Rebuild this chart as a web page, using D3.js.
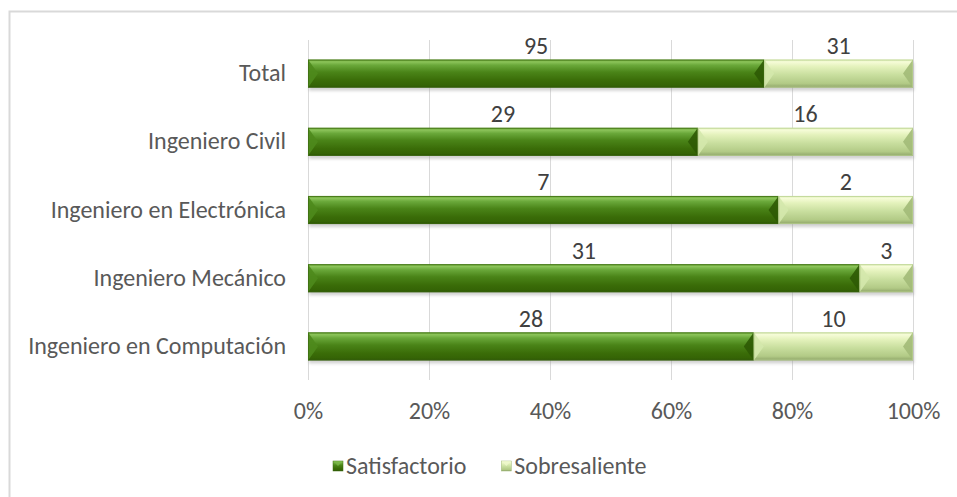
<!DOCTYPE html>
<html>
<head>
<meta charset="utf-8">
<script src="https://cdn.jsdelivr.net/npm/d3@7"></script>
<style>
  html, body { margin: 0; padding: 0; background: #fff; }
  svg { display: block; }
</style>
</head>
<body>
<svg id="chart" width="957" height="497"></svg>
<script>
// ---- data ----
const categories = ["Total", "Ingeniero Civil", "Ingeniero en Electrónica", "Ingeniero Mecánico", "Ingeniero en Computación"];
const satisfactorio = [95, 29, 7, 31, 28];
const sobresaliente = [31, 16, 2, 3, 10];
const seriesNames = ["Satisfactorio", "Sobresaliente"];
const tickValues = [0, 0.2, 0.4, 0.6, 0.8, 1.0];

// ---- setup ----
const svg = d3.select("#chart");
const W = 957, H = 497;
const FONT = "Carlito, Calibri, Lato, 'Open Sans', sans-serif";

// calibrate font size so long label approximates reference width
const probe = svg.append("text").attr("font-family", FONT).attr("font-size", 24).text("Ingeniero en Computación");
const measured = probe.node().getComputedTextLength();
probe.remove();
const FS = Math.max(16, Math.min(26, 24 * 258 / measured));

svg.append("rect").attr("width", W).attr("height", H).attr("fill", "#fff");
// outer border (only top-left visible in reference)
svg.append("path").attr("d", `M9.5,${H} L9.5,11.5 L${W},11.5`).attr("fill", "none").attr("stroke", "#d9d9d9").attr("stroke-width", 2);

const x = d3.scaleLinear().domain([0, 1]).range([308, 913]);
const y = d3.scaleBand().domain(categories).range([39.5, 380.5]).paddingInner(0.588).paddingOuter(0.294);

const data = categories.map((c, i) => {
  const tot = satisfactorio[i] + sobresaliente[i];
  return { cat: c, segs: [
    { s: 0, v: satisfactorio[i], x0: 0, x1: satisfactorio[i] / tot },
    { s: 1, v: sobresaliente[i], x0: satisfactorio[i] / tot, x1: 1 }
  ]};
});

// ---- defs ----
const defs = svg.append("defs");
const g1 = defs.append("linearGradient").attr("id", "gDark").attr("x1", 0).attr("y1", 0).attr("x2", 0).attr("y2", 1);
[[0, "#5e9a2a"], [0.08, "#8cc45a"], [0.2, "#6aa83a"], [0.45, "#4a8418"], [0.75, "#3a6c08"], [0.92, "#356406"], [1, "#2a5004"]]
  .forEach(([o, c]) => g1.append("stop").attr("offset", o).attr("stop-color", c));
const g2 = defs.append("linearGradient").attr("id", "gLight").attr("x1", 0).attr("y1", 0).attr("x2", 0).attr("y2", 1);
[[0, "#d8ecb0"], [0.08, "#f6fcd8"], [0.25, "#e4f2bc"], [0.55, "#c8de9e"], [0.85, "#b2ca86"], [1, "#8ea468"]]
  .forEach(([o, c]) => g2.append("stop").attr("offset", o).attr("stop-color", c));
const blur = defs.append("filter").attr("id", "shadow").attr("x", "-5%").attr("y", "-50%").attr("width", "110%").attr("height", "200%");
blur.append("feGaussianBlur").attr("stdDeviation", 1.6);

// ---- gridlines ----
svg.append("g").selectAll("line").data(tickValues).join("line")
  .attr("x1", d => Math.round(x(d)) + 0.5).attr("x2", d => Math.round(x(d)) + 0.5)
  .attr("y1", 40).attr("y2", 380)
  .attr("stroke", "#d9d9d9").attr("stroke-width", 1);

// ---- x axis labels ----
const xAxis = d3.axisBottom(x).tickValues(tickValues).tickFormat(d3.format(".0%")).tickSize(0).tickPadding(0);
const xg = svg.append("g").attr("transform", "translate(0,402)").call(xAxis);
xg.select(".domain").remove();
xg.selectAll("text").attr("font-family", FONT).attr("font-size", FS).attr("fill", "#595959").attr("dy", "0.71em");

// ---- y axis labels ----
const yAxis = d3.axisLeft(y).tickSize(0).tickPadding(0);
const yg = svg.append("g").attr("transform", "translate(286,0)").call(yAxis);
yg.select(".domain").remove();
yg.selectAll("text").attr("font-family", FONT).attr("font-size", FS).attr("fill", "#595959").attr("dy", "0.32em");

// ---- bars ----
const bh = y.bandwidth();
const rows = svg.append("g").selectAll("g").data(data).join("g").attr("transform", d => `translate(0,${y(d.cat)})`);

// shadows
rows.append("rect").attr("x", x(0) + 1).attr("y", 3).attr("width", x(1) - x(0)).attr("height", bh)
  .attr("fill", "#9a9a9a").attr("opacity", 0.45).attr("filter", "url(#shadow)");

const segs = rows.selectAll("g.seg").data(d => d.segs).join("g").attr("class", "seg");
segs.append("rect")
  .attr("x", d => x(d.x0)).attr("y", 0)
  .attr("width", d => x(d.x1) - x(d.x0)).attr("height", bh)
  .attr("fill", d => d.s === 0 ? "url(#gDark)" : "url(#gLight)");
// bevel ends
const bev = 10;
segs.append("path")
  .attr("d", d => { const a = x(d.x0); return `M${a},0 L${a + bev},${bh / 2} L${a},${bh} Z`; })
  .attr("fill", d => d.s === 0 ? "#4e8a1c" : "#d4e8ac").attr("opacity", 0.9);
segs.append("path")
  .attr("d", d => { const b = x(d.x1); return `M${b},0 L${b - bev},${bh / 2} L${b},${bh} Z`; })
  .attr("fill", d => d.s === 0 ? "#2e5a04" : "#a2ba78").attr("opacity", 0.9);
segs.append("rect")
  .attr("x", d => x(d.x0) + 0.5).attr("y", 0.5)
  .attr("width", d => x(d.x1) - x(d.x0) - 1).attr("height", bh - 1)
  .attr("fill", "none").attr("stroke", d => d.s === 0 ? "#3c6a10" : "#b8cf8e").attr("stroke-width", 1).attr("opacity", 0.7);

// ---- data labels ----
segs.append("text")
  .attr("x", d => (x(d.x0) + x(d.x1)) / 2)
  .attr("y", bh / 2 - 28)
  .attr("dy", "0.35em")
  .attr("text-anchor", "middle")
  .attr("font-family", FONT).attr("font-size", FS).attr("fill", "#404040")
  .text(d => d.v);

// ---- legend ----
const leg = svg.append("g");
let lx = 333;
const ly = 466;
seriesNames.forEach((n, i) => {
  const item = leg.append("g");
  item.append("rect").attr("x", lx).attr("y", ly - 5).attr("width", 10).attr("height", 10)
    .attr("fill", i === 0 ? "url(#gDark)" : "url(#gLight)").attr("stroke", i === 0 ? "#3c6a10" : "#9fb878").attr("stroke-width", 0.5);
  item.append("path").attr("d", `M${lx},${ly - 5} L${lx + 5},${ly} L${lx + 10},${ly - 5} Z`)
    .attr("fill", i === 0 ? "#7ab648" : "#eef8cc").attr("opacity", 0.8);
  const t = item.append("text").attr("x", lx + 13).attr("y", ly).attr("dy", "0.35em")
    .attr("font-family", FONT).attr("font-size", FS).attr("fill", "#595959").text(n);
  lx += 13 + t.node().getComputedTextLength() + 35;
});
</script>
</body>
</html>
